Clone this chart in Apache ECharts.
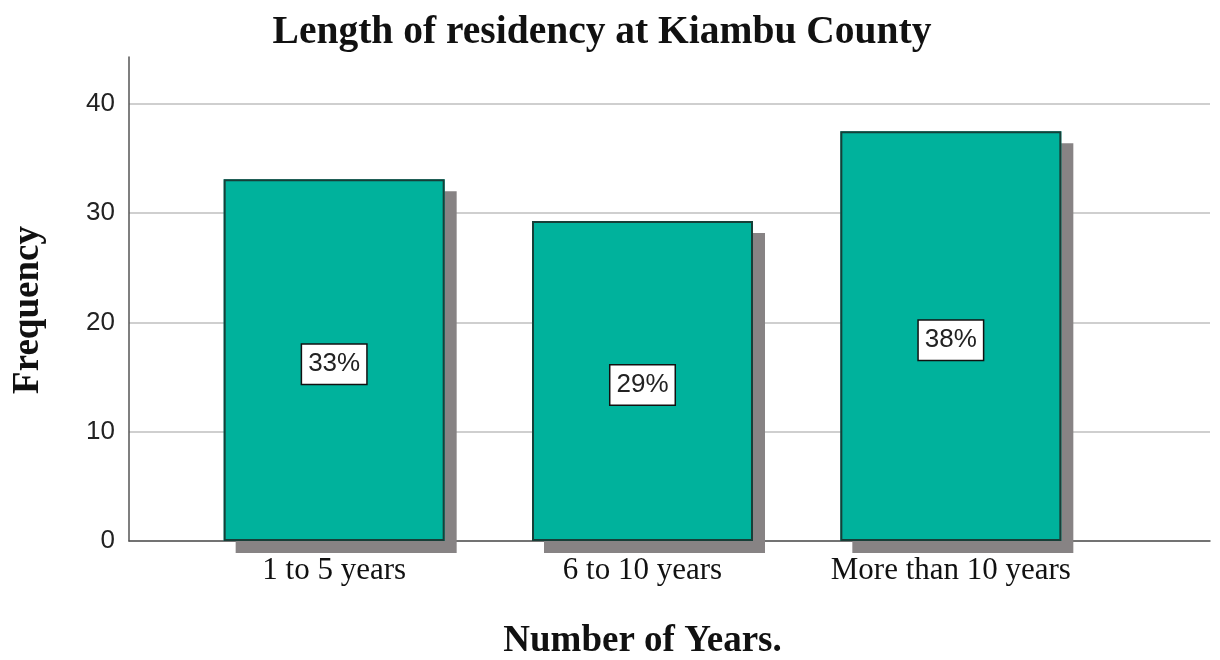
<!DOCTYPE html>
<html>
<head>
<meta charset="utf-8">
<script src="https://cdn.jsdelivr.net/npm/echarts@6/dist/echarts.min.js"></script>
<style>html,body{margin:0;padding:0;background:#fff;}#c{width:1220px;height:660px;}</style>
</head>
<body>
<div id="c"></div>
<script>
var categories = ["1 to 5 years", "6 to 10 years", "More than 10 years"];
var frequencies = [33.1, 29.3, 37.5];
var percentLabels = ["33%", "29%", "38%"];
var yTicks = [0, 10, 20, 30, 40];

var chart = echarts.init(document.getElementById('c'), null, {renderer: 'canvas'});
var yMax = 44.3;
var option = {
  backgroundColor: '#ffffff',
  animation: false,
  title: {
    text: 'Length of residency at Kiambu County',
    left: 597, top: 8, textAlign: 'center',
    textStyle: {fontFamily: 'Liberation Serif', fontWeight: 'bold', fontSize: 39.5, color: '#111'}
  },
  grid: [
    {left: 129, right: 10, top: 57, bottom: 119, containLabel: false, outerBoundsMode: 'none'},
    {left: 180, right: 115, top: 57, bottom: 119, containLabel: false, outerBoundsMode: 'none'}
  ],
  xAxis: [
    {gridIndex: 0, type: 'value', min: 0, max: 1,
     axisLine: {show: true, lineStyle: {color: '#555', width: 1.5}},
     axisTick: {show: false}, axisLabel: {show: false}, splitLine: {show: false}},
    {gridIndex: 1, type: 'category', data: categories,
     axisLine: {show: false}, axisTick: {show: false},
     axisLabel: {interval: 0, fontFamily: 'Liberation Serif', fontSize: 31, color: '#111', margin: 14},
     name: 'Number of Years.', nameLocation: 'middle', nameGap: 82,
     nameTextStyle: {fontFamily: 'Liberation Serif', fontWeight: 'bold', fontSize: 37, color: '#111'}}
  ],
  yAxis: [
    {gridIndex: 0, type: 'value', min: 0, max: yMax, interval: 10,
     axisLine: {show: true, lineStyle: {color: '#555', width: 1.5}},
     axisTick: {show: false},
     axisLabel: {fontFamily: 'Liberation Sans', fontSize: 26, color: '#222', margin: 14, showMaxLabel: false,
       formatter: function (v) { return yTicks.indexOf(v) >= 0 ? String(v) : ''; }},
     splitLine: {show: true, showMaxLine: false, lineStyle: {color: '#cfcfcf', width: 2}},
     name: 'Frequency', nameLocation: 'middle', nameGap: 82, nameRotate: 90,
     nameTextStyle: {fontFamily: 'Liberation Serif', fontWeight: 'bold', fontSize: 37, color: '#111', padding: [0, 22, 0, 0]}},
    {gridIndex: 1, type: 'value', min: 0, max: yMax, interval: 10, show: false, splitLine: {show: false}}
  ],
  series: [
    {
      type: 'bar', xAxisIndex: 1, yAxisIndex: 1, barGap: '-100%',
      data: frequencies, barWidth: 221, clip: false, silent: true,
      itemStyle: {color: '#00b29c', borderWidth: 0,
        shadowColor: '#878384', shadowBlur: 0, shadowOffsetX: 12, shadowOffsetY: 12}
    },
    {
      type: 'bar', xAxisIndex: 1, yAxisIndex: 1, barGap: '-100%',
      data: frequencies, barWidth: 221, clip: false,
      itemStyle: {color: '#00b29c', borderColor: '#173f38', borderWidth: 2},
      label: {show: true, position: 'inside', offset: [0, 4],
        formatter: function (p) { return percentLabels[p.dataIndex]; },
        fontFamily: 'Liberation Sans', fontSize: 26, color: '#222',
        backgroundColor: '#ffffff', borderColor: '#111', borderWidth: 1.5,
        padding: [7, 6, 6, 6]}
    }
  ]
};
chart.setOption(option);
</script>
</body>
</html>
